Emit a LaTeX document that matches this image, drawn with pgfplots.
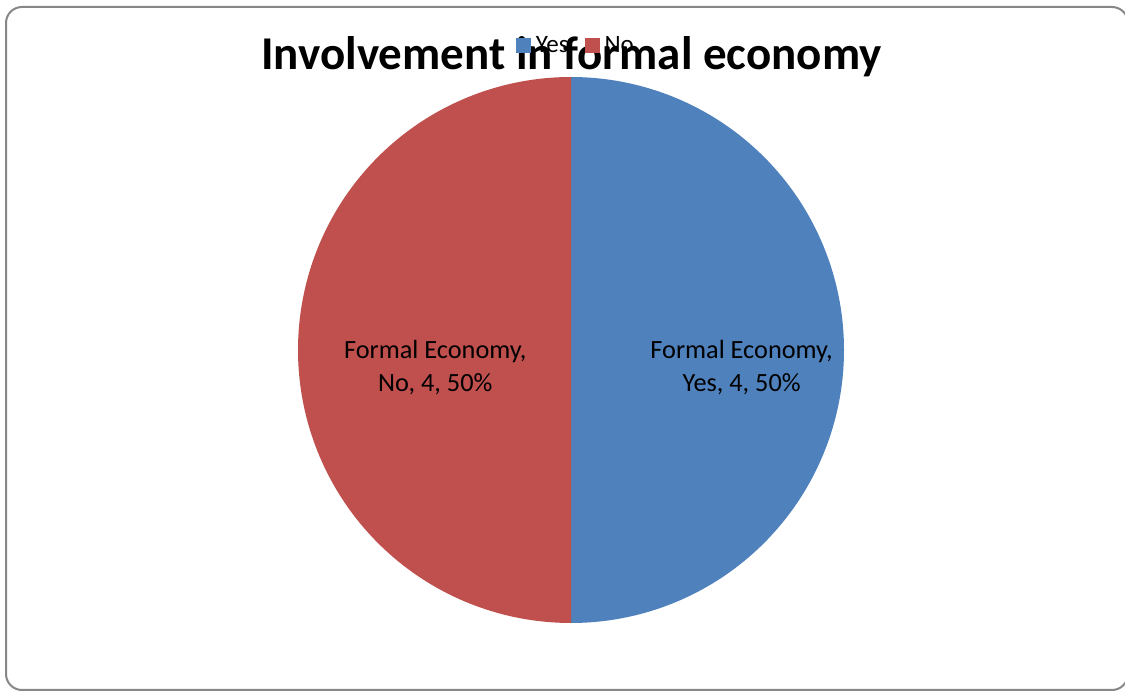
\documentclass[border=0pt]{standalone}
\usepackage{pgfplots}
\pgfplotsset{compat=1.18}
\usepackage{pgfplotstable}
\usepackage{fontspec}
\setmainfont{Carlito}
\definecolor{yesblue}{HTML}{4F81BD}
\definecolor{nored}{HTML}{C0504D}
\definecolor{framegray}{HTML}{878787}
\pgfplotstableread{
cat value
Yes 4
No 4
}\piedata
\begin{document}
\begin{tikzpicture}[x=1pt,y=1pt]
\pgfplotstablegetelem{0}{value}\of\piedata \let\vYes\pgfplotsretval
\pgfplotstablegetelem{1}{value}\of\piedata \let\vNo\pgfplotsretval
\pgfmathsetmacro\total{\vYes+\vNo}
\pgfmathsetmacro\aYes{360*\vYes/\total}
\pgfmathsetmacro\aNo{360*\vNo/\total}
\pgfmathtruncatemacro\pYes{round(100*\vYes/\total)}
\pgfmathtruncatemacro\pNo{round(100*\vNo/\total)}
\useasboundingbox (0pt,0pt) rectangle (1125pt,691pt);
\begin{scope}
\clip (0pt,0pt) rectangle (1125pt,691pt);
\draw[framegray, line width=2pt, rounded corners=16pt, fill=white] (6pt,1pt) rectangle (1128pt,684pt);
\end{scope}
\node[anchor=base, font=\fontsize{47}{52}\selectfont\bfseries, inner sep=0pt] at (571.5pt,621pt) {Involvement in formal economy};
\begin{axis}[
  at={(298pt,68pt)}, anchor=south west,
  width=546pt, height=546pt, scale only axis,
  xmin=-1, xmax=1, ymin=-1, ymax=1,
  hide axis, clip=false,
  legend columns=2,
  legend style={at={(0.509,1.0586)}, anchor=center, draw=none, fill=none,
    font=\fontsize{25}{25}\selectfont, inner sep=0pt,
    /tikz/every odd column/.append style={column sep=3pt},
    /tikz/every even column/.append style={column sep=14pt}},
  legend image code/.code={\fill[#1] (0pt,-7.5pt) rectangle (15pt,7.5pt);},
]
\addplot[fill=yesblue, draw=none, domain={90-\aYes}:90, samples=181] ({cos(x)},{sin(x)}) -- (axis cs:0,0) -- cycle;
\addlegendentry{Yes}
\addplot[fill=nored, draw=none, domain={90-\aYes-\aNo}:{90-\aYes}, samples=181] ({cos(x)},{sin(x)}) -- (axis cs:0,0) -- cycle;
\addlegendentry{No}
\node[align=center, font=\fontsize{26.3}{33}\selectfont] at (axis cs:0.625,-0.066) {Formal Economy,\\Yes, \vYes, \pYes\%};
\node[align=center, font=\fontsize{26.3}{33}\selectfont] at (axis cs:-0.497,-0.066) {Formal Economy,\\No, \vNo, \pNo\%};
\end{axis}
\end{tikzpicture}
\end{document}
